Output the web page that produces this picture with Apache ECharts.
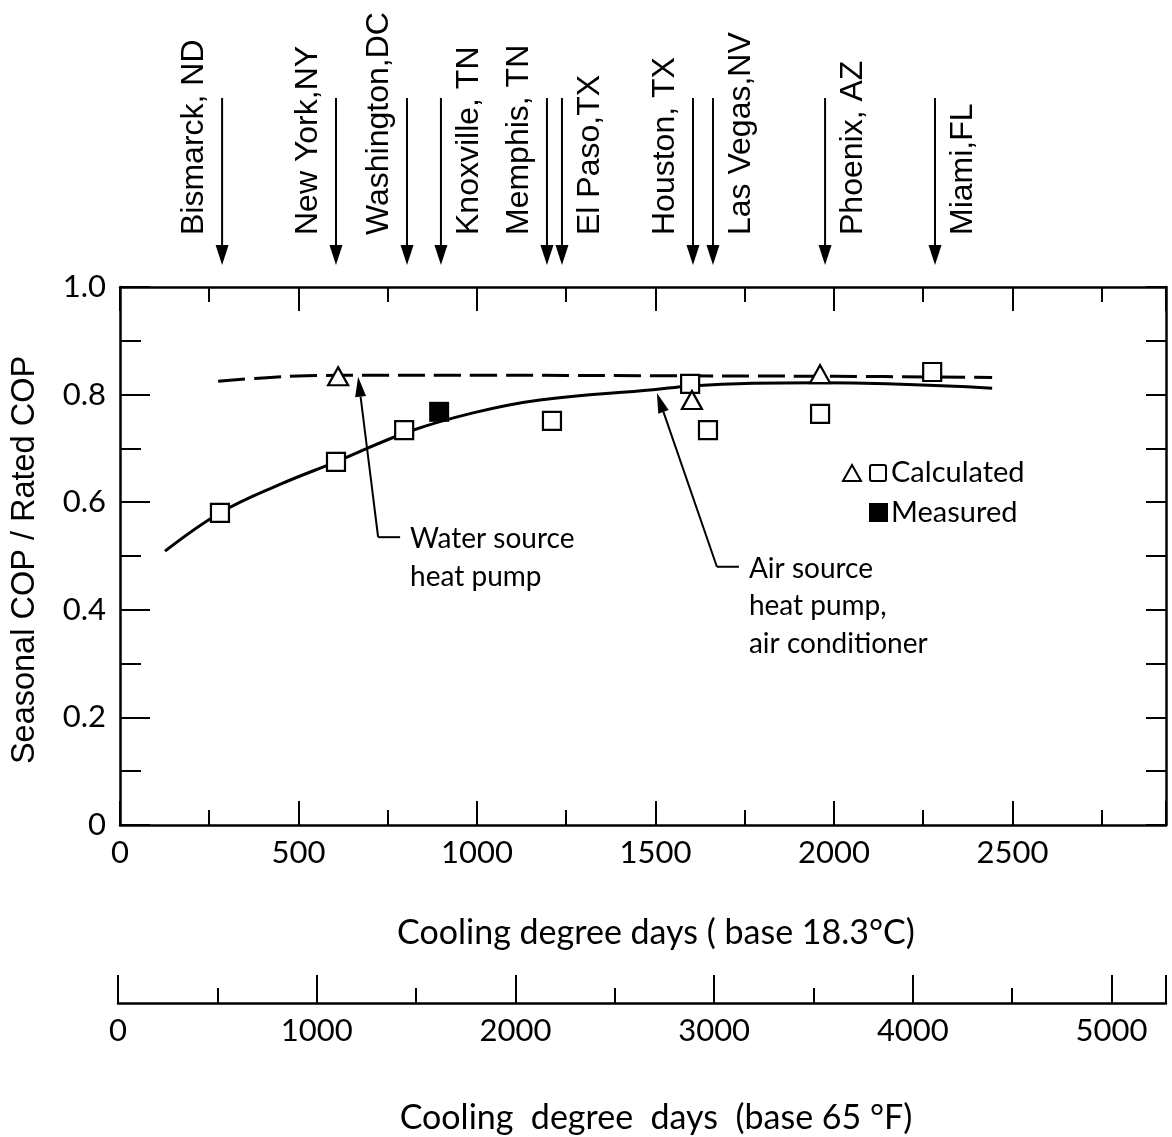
<!DOCTYPE html>
<html><head><meta charset="utf-8">
<script src="https://cdn.jsdelivr.net/npm/echarts@6/dist/echarts.min.js"></script>
<style>html,body{margin:0;padding:0;background:#fff}#c{width:1172px;height:1137px}</style>
</head><body><div id="c"></div>
<script>
// ---------------- data ----------------
const X_MAX_C = 2930;                       // cooling degree days, base 18.3 C
const F_PER_C = 1.8;                        // degree-day conversion to base 65 F
const xTicksC = [0, 500, 1000, 1500, 2000, 2500];
const xTicksF = [0, 1000, 2000, 3000, 4000, 5000];
const yTicks = [0, 0.2, 0.4, 0.6, 0.8, 1.0];

const cityNames = ['Bismarck, ND', 'New York,NY', 'Washington,DC', 'Knoxville, TN', 'Memphis, TN',
                   'El Paso,TX', 'Houston, TX', 'Las Vegas,NV', 'Phoenix, AZ', 'Miami,FL'];
const cityCDD = [286, 605, 804, 899, 1196, 1238, 1605, 1661, 1975, 2283];
const cityLabelSide = ['L', 'L', 'L', 'R', 'L', 'R', 'L', 'R', 'R', 'R'];

const calcSquareX = [280, 605, 796, 1210, 1597, 1647, 1961, 2275];
const calcSquareY = [0.580, 0.675, 0.734, 0.751, 0.820, 0.734, 0.764, 0.842];
const calcTriangleX = [611, 1602, 1961];
const calcTriangleY = [0.834, 0.790, 0.838];
const measuredX = [894];
const measuredY = [0.768];

const airCurveX = [126, 280, 448, 605, 804, 989, 1176, 1493, 1597, 1773, 1961, 2148, 2443];
const airCurveY = [0.509, 0.580, 0.633, 0.675, 0.730, 0.766, 0.790, 0.809, 0.816, 0.821, 0.822, 0.820, 0.812];
const waterCurveX = [275, 400, 523, 700, 1000, 1500, 2000, 2443];
const waterCurveY = [0.825, 0.831, 0.835, 0.836, 0.836, 0.835, 0.834, 0.832];

const annotationText = [['Water source', 'heat pump'], ['Air source', 'heat pump,', 'air conditioner']];
const annotationTip = [[667, 0.833], [1504, 0.803]];
const annotationElbow = [[723, 0.535], [1672, 0.480]];

// ---------------- chart ----------------
const zip = (xs, ys) => xs.map((x, i) => [x, ys[i]]);
const BLACK = '#000';
const NUM_FONT = 'Lato';
const LBL_FONT = 'Liberation Sans';

const chart = echarts.init(document.getElementById('c'), null, {renderer: 'canvas'});

function xAxisDef(grid, pos, max, interval, tickLen, withLine, labelSet) {
  return {
    type: 'value', gridIndex: grid, position: pos, min: 0, max: max, interval: interval,
    axisLine: {show: withLine, onZero: false, lineStyle: {color: BLACK, width: 2.5}},
    axisTick: {show: true, inside: true, length: tickLen, lineStyle: {color: BLACK, width: 2}},
    axisLabel: labelSet ? {
      show: true, margin: 12, color: BLACK, fontFamily: NUM_FONT, fontSize: 31,
      formatter: v => (labelSet.indexOf(v) >= 0 ? String(v) : '')
    } : {show: false},
    splitLine: {show: false}
  };
}

const option = {
  backgroundColor: '#fff',
  animation: false,
  grid: [
    {left: 120, top: 287, width: 1046, height: 538},
    {left: 118, top: 1002, width: 1048, height: 1}
  ],
  xAxis: [
    xAxisDef(0, 'bottom', X_MAX_C, 500, 24, true, xTicksC),
    xAxisDef(0, 'bottom', X_MAX_C, 250, 15, false, null),
    xAxisDef(0, 'top', X_MAX_C, 500, 24, true, null),
    xAxisDef(0, 'top', X_MAX_C, 250, 15, false, null),
    xAxisDef(1, 'bottom', X_MAX_C * F_PER_C, 1000, 28, true, xTicksF),
    xAxisDef(1, 'bottom', X_MAX_C * F_PER_C, 500, 15, false, null)
  ],
  yAxis: [
    {
      type: 'value', gridIndex: 0, position: 'left', min: 0, max: 1, interval: 0.2,
      axisLine: {show: true, onZero: false, lineStyle: {color: BLACK, width: 2.5}},
      axisTick: {show: true, inside: true, length: 30, lineStyle: {color: BLACK, width: 2}},
      axisLabel: {show: true, margin: 14, color: BLACK, fontFamily: NUM_FONT, fontSize: 31,
        formatter: v => { const t = yTicks.find(k => Math.abs(k - v) < 1e-9); return t === undefined ? '' : (t === 0 ? '0' : t.toFixed(1)); }},
      splitLine: {show: false}
    },
    {
      type: 'value', gridIndex: 0, position: 'left', min: 0, max: 1, interval: 0.1,
      axisLine: {show: false, onZero: false},
      axisTick: {show: true, inside: true, length: 21, lineStyle: {color: BLACK, width: 2}},
      axisLabel: {show: false}, splitLine: {show: false}
    },
    {
      type: 'value', gridIndex: 0, position: 'right', min: 0, max: 1, interval: 0.1,
      axisLine: {show: true, onZero: false, lineStyle: {color: BLACK, width: 2.5}},
      axisTick: {show: true, inside: true, length: 20, lineStyle: {color: BLACK, width: 2}},
      axisLabel: {show: false}, splitLine: {show: false}
    },
    {type: 'value', gridIndex: 1, show: false, min: 0, max: 1}
  ],
  series: [
    {
      name: 'Air source heat pump, air conditioner', type: 'line', xAxisIndex: 0, yAxisIndex: 0,
      data: zip(airCurveX, airCurveY), smooth: 0.4, showSymbol: false, symbol: 'none',
      lineStyle: {color: BLACK, width: 3}, z: 3
    },
    {
      name: 'Water source heat pump', type: 'line', xAxisIndex: 0, yAxisIndex: 0,
      data: zip(waterCurveX, waterCurveY), smooth: 0.4, showSymbol: false, symbol: 'none',
      lineStyle: {color: BLACK, width: 3, type: [27, 9]}, z: 3
    },
    {
      name: 'Calculated (square)', type: 'scatter', xAxisIndex: 0, yAxisIndex: 0,
      data: zip(calcSquareX, calcSquareY), symbol: 'rect', symbolSize: 18,
      itemStyle: {color: '#fff', borderColor: BLACK, borderWidth: 2.2, opacity: 1}, z: 5
    },
    {
      name: 'Calculated (triangle)', type: 'scatter', xAxisIndex: 0, yAxisIndex: 0,
      data: zip(calcTriangleX, calcTriangleY), symbol: 'triangle', symbolSize: [20, 18],
      itemStyle: {color: '#fff', borderColor: BLACK, borderWidth: 2.2, opacity: 1}, z: 5
    },
    {
      name: 'Measured', type: 'scatter', xAxisIndex: 0, yAxisIndex: 0,
      data: zip(measuredX, measuredY), symbol: 'rect', symbolSize: 20,
      itemStyle: {color: BLACK, opacity: 1}, z: 5
    },
    {
      name: 'Cities', type: 'custom', xAxisIndex: 0, yAxisIndex: 0, clip: false,
      data: cityCDD.map(v => [v, 1]),
      renderItem: function (params, api) {
        const i = params.dataIndex;
        const x = api.coord([api.value(0), 0])[0];
        const top = params.coordSys.y;
        const side = cityLabelSide[i] === 'L' ? -1 : 1;
        return {type: 'group', children: [
          {type: 'line', shape: {x1: x, y1: top - 189, x2: x, y2: top - 38}, style: {stroke: BLACK, lineWidth: 2}},
          {type: 'polygon', shape: {points: [[x - 6.5, top - 42], [x + 6.5, top - 42], [x, top - 22]]}, style: {fill: BLACK}},
          {type: 'text', x: x + side * 28, y: top - 52, rotation: Math.PI / 2,
            style: {text: cityNames[i], fill: BLACK, fontFamily: LBL_FONT, fontSize: 32, align: 'left', verticalAlign: 'middle'}}
        ]};
      }
    },
    {
      name: 'Annotations', type: 'custom', xAxisIndex: 0, yAxisIndex: 0, clip: false,
      data: annotationTip.map((t, i) => [t[0], t[1], annotationElbow[i][0], annotationElbow[i][1]]),
      renderItem: function (params, api) {
        const i = params.dataIndex;
        const tip = api.coord([api.value(0), api.value(1)]);
        const elb = api.coord([api.value(2), api.value(3)]);
        const dx = tip[0] - elb[0], dy = tip[1] - elb[1];
        const L = Math.sqrt(dx * dx + dy * dy), ux = dx / L, uy = dy / L;
        const hl = 20, hw = 5.5;
        const bx = tip[0] - ux * hl, by = tip[1] - uy * hl;
        const children = [
          {type: 'line', shape: {x1: elb[0], y1: elb[1], x2: bx, y2: by}, style: {stroke: BLACK, lineWidth: 2}},
          {type: 'line', shape: {x1: elb[0], y1: elb[1], x2: elb[0] + 22, y2: elb[1]}, style: {stroke: BLACK, lineWidth: 2}},
          {type: 'polygon', shape: {points: [[tip[0], tip[1]], [bx - uy * hw, by + ux * hw], [bx + uy * hw, by - ux * hw]]}, style: {fill: BLACK}}
        ];
        annotationText[i].forEach((t, k) => {
          children.push({type: 'text', x: elb[0] + 32, y: elb[1] + 2 + k * 37.5,
            style: {text: t, fill: BLACK, fontFamily: NUM_FONT, fontSize: 28, align: 'left', verticalAlign: 'middle'}});
        });
        return {type: 'group', children: children};
      }
    }
  ],
  graphic: [
    {type: 'text', x: 25, y: 560, rotation: Math.PI / 2,
      style: {text: 'Seasonal COP / Rated COP', fill: BLACK, fontFamily: LBL_FONT, fontSize: 32.5, align: 'center', verticalAlign: 'middle'}},
    {type: 'text', x: 656, y: 933,
      style: {text: 'Cooling degree days ( base 18.3°C)', fill: BLACK, fontFamily: NUM_FONT, fontSize: 34, align: 'center', verticalAlign: 'middle'}},
    {type: 'text', x: 656, y: 1118,
      style: {text: 'Cooling  degree  days  (base 65 °F)', fill: BLACK, fontFamily: NUM_FONT, fontSize: 34, align: 'center', verticalAlign: 'middle'}},
    // legend
    {type: 'polygon', shape: {points: [[843, 481], [861, 481], [852, 465]]}, style: {fill: '#fff', stroke: BLACK, lineWidth: 2}},
    {type: 'rect', shape: {x: 870, y: 465, width: 16, height: 16, r: 2}, style: {fill: '#fff', stroke: BLACK, lineWidth: 2}},
    {type: 'text', x: 891, y: 473, style: {text: 'Calculated', fill: BLACK, fontFamily: NUM_FONT, fontSize: 29, align: 'left', verticalAlign: 'middle'}},
    {type: 'rect', shape: {x: 869, y: 503, width: 19, height: 19}, style: {fill: BLACK}},
    {type: 'text', x: 891, y: 513, style: {text: 'Measured', fill: BLACK, fontFamily: NUM_FONT, fontSize: 29, align: 'left', verticalAlign: 'middle'}}
  ]
};
chart.setOption(option);
</script>
</body></html>
